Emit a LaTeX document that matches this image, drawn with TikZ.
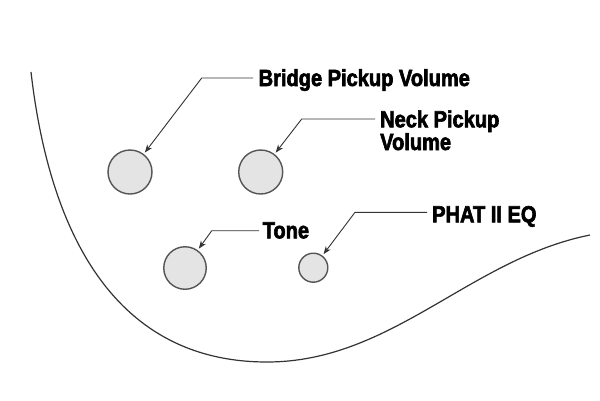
\documentclass[tikz,border=0pt]{standalone}
\usepackage{fontspec}
\newfontfamily\lblfont{Liberation Sans Bold}[FakeStretch=0.86,FakeBold=2.6]
\usetikzlibrary{arrows.meta}
\definecolor{inkline}{HTML}{333333}
\definecolor{knobfill}{HTML}{E4E4E4}
\definecolor{knobline}{HTML}{555555}
\begin{document}
\begin{tikzpicture}[x=1pt,y=-1pt,
  knob/.style={circle,draw=knobline,fill=knobfill,line width=1.4pt,inner sep=0pt,outer sep=0pt},
  lbl/.style={inner sep=0pt,anchor=base west,font=\lblfont\fontsize{23.3}{20.7}\selectfont,text=black},
  leader/.style={draw=inkline,line width=0.9pt,-{Stealth[length=8pt,width=6pt]},shorten >=2.5pt},
  body/.style={draw=inkline,line width=1.2pt}]
\useasboundingbox (0,0) rectangle (600,400);
\fill[white] (0,0) rectangle (600,400);
% body outline
\draw[body] (31,72) .. controls (50,237) and (117,362) .. (267,362)
  .. controls (392,362) and (470,259) .. (590,235);
% knobs
\node[knob,minimum size=44pt] (bk) at (130,172) {};
\node[knob,minimum size=44pt] (nk) at (260.7,172) {};
\node[knob,minimum size=42.5pt] (tk) at (185,268) {};
\node[knob,minimum size=29pt] (pk) at (313.3,267.7) {};
% labels
\node[lbl] (bl) at (258.5,86) {Bridge Pickup Volume};
\node[lbl,align=left] (nl) at (380,150) {Neck Pickup\\Volume};
\node[lbl] (tl) at (262.5,238.3) {Tone};
\node[lbl] (pl) at (432,222.3) {PHAT II EQ};
% leader points
\coordinate (bs) at (253,78);   \coordinate (be) at (201.7,78);
\coordinate (ns) at (375,119);  \coordinate (ne) at (301.7,119);
\coordinate (ts) at (259,230.7);\coordinate (te) at (211.7,230.7);
\coordinate (ps) at (427,212.3);\coordinate (pe) at (355,212.3);
\draw[leader] (bs) -- (be) -- (bk);
\draw[leader] (ns) -- (ne) -- (nk);
\draw[leader] (ts) -- (te) -- (tk);
\draw[leader] (ps) -- (pe) -- (pk);
\end{tikzpicture}
\end{document}
